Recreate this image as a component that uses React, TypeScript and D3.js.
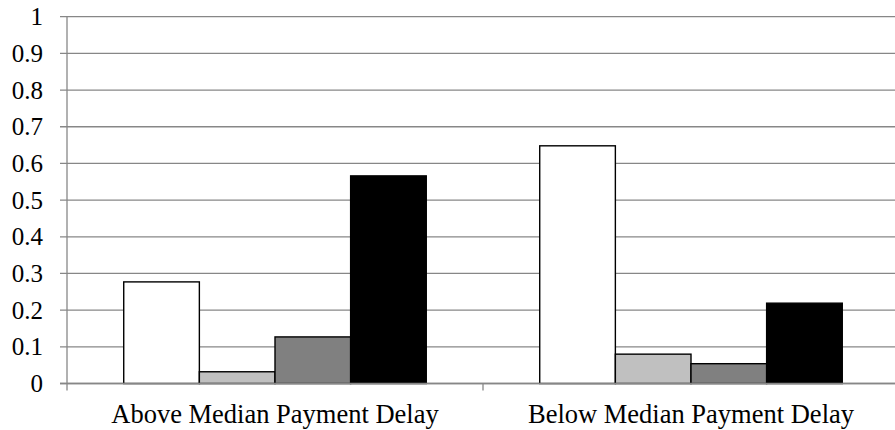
import React from "react";
import * as d3 from "d3";

const categories = ["Above Median Payment Delay", "Below Median Payment Delay"];
const seriesNames = ["s1", "s2", "s3", "s4"];
const seriesColors = ["#ffffff", "#c0c0c0", "#808080", "#000000"];
const values = [
	[0.277, 0.032, 0.127, 0.566],
	[0.648, 0.08, 0.054, 0.219],
];
const yTicks = [0, 0.1, 0.2, 0.3, 0.4, 0.5, 0.6, 0.7, 0.8, 0.9, 1];

const serif = "'Liberation Serif'";

export default function App() {
	const width = 895;
	const height = 430;
	const marginLeft = 67;
	const plotRight = 899; // plot area runs past the picture edge
	const marginTop = 16.7;
	const plotBottom = 383.5;
	const gridColor = "#878787";

	const x = d3.scaleBand<string>().domain(categories).range([marginLeft, plotRight]);

	// Excel style gap width of 150%
	const gap = x.bandwidth() * (1.5 / 5.5);
	const xs = d3
		.scaleBand<string>()
		.domain(seriesNames)
		.range([gap / 2, x.bandwidth() - gap / 2]);

	const y = d3.scaleLinear().domain([0, 1]).range([plotBottom, marginTop]);

	return (
		<svg width={width} height={height} style={{ position: "absolute", left: 0, top: 0 }}>
			{/* gridlines */}
			{yTicks.map((t) => (
				<line
					key={t}
					x1={marginLeft - 7}
					x2={width}
					y1={y(t)}
					y2={y(t)}
					stroke={gridColor}
					strokeWidth={1.3}
				/>
			))}

			{/* y axis */}
			<line
				x1={marginLeft}
				x2={marginLeft}
				y1={marginTop}
				y2={plotBottom}
				stroke={gridColor}
				strokeWidth={1.3}
			/>

			{/* bars */}
			{categories.map((c, ci) => (
				<g key={c} transform={`translate(${x(c)},0)`}>
					{seriesNames.map((s, si) => (
						<rect
							key={s}
							x={xs(s)}
							y={y(values[ci][si])}
							width={xs.bandwidth()}
							height={y(0) - y(values[ci][si])}
							fill={seriesColors[si]}
							stroke="#000"
							strokeWidth={1.4}
						/>
					))}
				</g>
			))}

			{/* x axis */}
			<line
				x1={marginLeft - 7}
				x2={width}
				y1={plotBottom}
				y2={plotBottom}
				stroke={gridColor}
				strokeWidth={1.3}
			/>
			{categories.map((c) => (
				<line
					key={c}
					x1={x(c)}
					x2={x(c)}
					y1={plotBottom}
					y2={plotBottom + 7}
					stroke={gridColor}
					strokeWidth={1.3}
				/>
			))}

			{/* y labels */}
			{yTicks.map((t) => (
				<text
					key={t}
					x={43}
					y={y(t) + 8.5}
					textAnchor="end"
					style={{ fontFamily: serif, fontSize: 25 }}
				>
					{t}
				</text>
			))}

			{/* x labels */}
			{categories.map((c) => (
				<text
					key={c}
					x={(x(c) || 0) + x.bandwidth() / 2}
					y={423}
					textAnchor="middle"
					style={{ fontFamily: serif, fontSize: 26.5 }}
				>
					{c}
				</text>
			))}
		</svg>
	);
}
